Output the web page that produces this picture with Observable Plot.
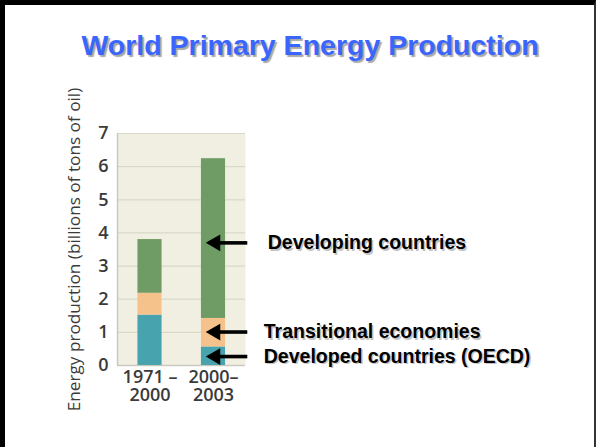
<!DOCTYPE html>
<html>
<head>
<meta charset="utf-8">
<script src="https://cdn.jsdelivr.net/npm/d3@7"></script>
<script src="https://cdn.jsdelivr.net/npm/@observablehq/plot@0.6"></script>
<style>
  html, body { margin: 0; padding: 0; background: #fff; }
  #wrap { position: relative; width: 596px; height: 447px; overflow: hidden; background: #fff; }
  #frame { position: absolute; left: 0; top: 0; width: 596px; height: 447px; box-sizing: border-box;
           border-left: 5px solid #000; border-top: 5px solid #000; border-right: 2px solid #333; pointer-events: none; }
  #title { position: absolute; left: 0; width: 620px; top: 29px; text-align: center;
           font-family: "Liberation Sans", Arial, sans-serif; font-weight: bold; font-size: 28.5px;
           color: #3a66ff; text-shadow: 2px 2px 1px #a8a8a8; }
  #chart { position: absolute; left: 0; top: 0; }
</style>
</head>
<body>
<div id="wrap">
  <div id="chart"></div>
  <div id="title">World Primary Energy Production</div>
  <div id="frame"></div>
</div>
<script>
// Data
const periods = ["1971 –\n2000", "2000–\n2003"];
const groups = ["Developed countries (OECD)", "Transitional economies", "Developing countries"];
const developed = [1.52, 0.56];
const transitional = [0.66, 0.86];
const developing = [1.62, 4.82];
const yTicks = [0, 1, 2, 3, 4, 5, 6, 7];
const arrowY = [3.7, 1.01, 0.27];       // where each annotation arrow points (value on the y axis)
const arrowLabels = ["Developing countries", "Transitional economies", "Developed countries (OECD)"];

const colors = ["#47a3ae", "#f4c28a", "#6f9b65"];

const rows = [];
periods.forEach((p, i) => {
  rows.push({i, group: groups[0], value: developed[i]});
  rows.push({i, group: groups[1], value: transitional[i]});
  rows.push({i, group: groups[2], value: developing[i]});
});
const notes = arrowLabels.map((label, k) => ({label, y: arrowY[k]}));

const half = 0.19;      // half bar width in x units
const tipX = 0.95, tailX = 1.54;

const tickFont = "'Open Sans', 'DejaVu Sans', sans-serif";
const labelFont = "'Liberation Sans', Arial, sans-serif";

const chart = Plot.plot({
  width: 596,
  height: 447,
  marginLeft: 117,
  marginRight: 351,
  marginTop: 133,
  marginBottom: 82,
  style: {background: "transparent", overflow: "visible"},
  x: {domain: [-0.512, 1.504], axis: null},
  y: {domain: [0, 7], axis: null},
  color: {domain: groups, range: colors},
  marks: [
    Plot.frame({fill: "#f0efe2", stroke: null}),
    Plot.gridY({ticks: yTicks.slice(1), stroke: "#d9d9c9", strokeOpacity: 1, strokeWidth: 1.2}),
    Plot.ruleX([-0.512], {stroke: "#c9c9c0", strokeWidth: 1.5}),
    Plot.ruleY([0], {stroke: "#c9c9bd", strokeWidth: 1.5}),
    Plot.rectY(rows, Plot.stackY({
      x1: d => d.i - half, x2: d => d.i + half, y: "value", fill: "group", order: groups
    })),
    Plot.axisY({ticks: yTicks, tickFormat: d => String(d), tickSize: 0, tickPadding: 9, fontSize: 18,
                fontWeight: 600, fontFamily: tickFont, fill: "#3a3a3a", label: null}),
    Plot.axisX({ticks: [0, 1], tickFormat: i => periods[i], tickSize: 0, tickPadding: 5,
                fontSize: 18, fontWeight: 600, lineHeight: 1.0, fontFamily: tickFont, fill: "#3a3a3a", label: null}),
    Plot.text(["Energy production (billions of tons of oil)"], {
      frameAnchor: "left", textAnchor: "middle", rotate: -90, dx: -43, fontSize: 17.2, fontWeight: 500,
      fontFamily: tickFont, fill: "#3a3a3a"
    }),
    // arrows
    Plot.ruleY(notes, {y: "y", x1: tailX, x2: tipX + 0.1, stroke: "#000", strokeWidth: 3.6}),
    Plot.dot(notes, {x: tipX + 0.08, y: "y", symbol: "triangle", rotate: -90, r: 6.2, fill: "#000", stroke: null}),
    // label shadows
    Plot.text(notes.slice(0, 1), {x: tailX, y: "y", text: "label", textAnchor: "start", dx: 21.5, dy: 1.5,
      fontSize: 19.5, fontWeight: "bold", fontFamily: labelFont, fill: "#c4c4c4"}),
    Plot.text(notes.slice(1), {x: tailX, y: "y", text: "label", textAnchor: "start", dx: 17.5, dy: 1.5,
      fontSize: 19.5, fontWeight: "bold", fontFamily: labelFont, fill: "#c4c4c4"}),
    // labels
    Plot.text(notes.slice(0, 1), {x: tailX, y: "y", text: "label", textAnchor: "start", dx: 20,
      fontSize: 19.5, fontWeight: "bold", fontFamily: labelFont, fill: "#000"}),
    Plot.text(notes.slice(1), {x: tailX, y: "y", text: "label", textAnchor: "start", dx: 16,
      fontSize: 19.5, fontWeight: "bold", fontFamily: labelFont, fill: "#000"})
  ]
});
document.getElementById("chart").appendChild(chart);
</script>
</body>
</html>
